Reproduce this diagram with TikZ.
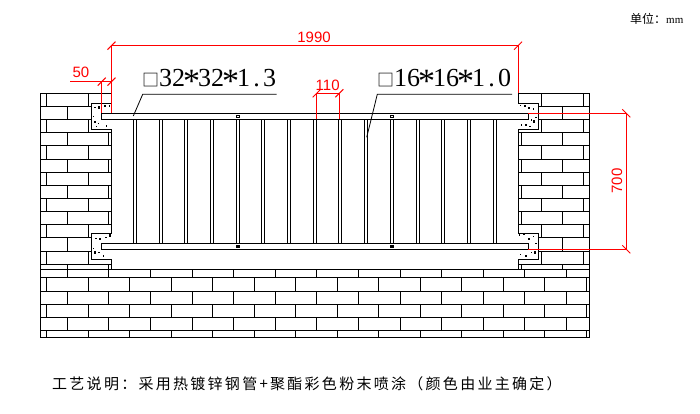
\documentclass[tikz,border=0pt]{standalone}
\usepackage{fontspec}
\newfontfamily\cjk{Noto Sans CJK SC}
\newfontfamily\cjkwide[LetterSpace=15.2]{Noto Sans CJK SC}
\newfontfamily\dimfont{Liberation Sans}
\newfontfamily\sizefont{Liberation Serif}
\tikzset{
  brick/.style={line width=1pt},
  rail/.style={draw, fill=white, line width=1pt},
  block/.style={draw, fill=white, line width=1pt},
  dimred/.style={red, line width=1pt},
  dimtext/.style={red, inner sep=0pt, font=\dimfont\fontsize{15}{15}\selectfont},
  leader/.style={line width=0.8pt},
  sizetext/.style={inner sep=0pt, anchor=base west, font=\sizefont\fontsize{26}{26}\selectfont},
}
% tick of a dimension line, / or \
\newcommand{\tickup}[1]{\draw[dimred] ([shift={(-4,4)}]#1) -- ([shift={(4,-4)}]#1);}
\newcommand{\tickdown}[1]{\draw[dimred] ([shift={(-4,-4)}]#1) -- ([shift={(4,4)}]#1);}
% pipe size marks
\newcommand{\boxmark}{{\cjk\fontsize{17}{17}\selectfont □}}
\newcommand{\starmark}{\makebox[13pt]{\raisebox{-5.5pt}{\fontsize{34}{34}\selectfont *}}}
\newcommand{\dotmark}{\makebox[13pt]{.}}
\begin{document}
\begin{tikzpicture}[x=1pt,y=-1pt]
    \useasboundingbox (0,0) rectangle (700,414);

    % wall left and right
    \draw[brick] (40.5,269.3) -- (40.5,93.3) -- (111.5,93.3) -- (111.5,269.3);
    \draw[brick] (518,269.3) -- (518,93.3) -- (589,93.3) -- (589,269.3);
    \foreach \k in {1,...,13} {
        \draw[brick] (40.5,93.3+13.15*\k) -- (111.5,93.3+13.15*\k);
        \draw[brick] (518,93.3+13.15*\k) -- (589,93.3+13.15*\k);
    }
    \foreach \k in {0,2,...,12} {
        \foreach \x in {46.7,88,541.3,583.3}
            \draw[brick] (\x,93.3+13.15*\k) -- (\x,106.45+13.15*\k);
    }
    \foreach \k in {1,3,...,11} {
        \foreach \x in {67.3,108.3,521.7,562.7}
            \draw[brick] (\x,93.3+13.15*\k) -- (\x,106.45+13.15*\k);
    }
    \foreach \x in {67.3,108.3,521.7,562.7}
        \draw[brick] (\x,264.3) -- (\x,269.3);

    % ground
    \draw[brick] (40.5,269.3) rectangle (589,337.3);
    \foreach \y in {277.3,291,304.3,317.3,330.3}
        \draw[brick] (40.5,\y) -- (589,\y);
    \foreach \k in {0,...,12} {
        \draw[brick] (67.3+41.6*\k,269.3) -- (67.3+41.6*\k,277.3);
        \draw[brick] (67.3+41.6*\k,291) -- (67.3+41.6*\k,304.3);
        \draw[brick] (67.3+41.6*\k,317.3) -- (67.3+41.6*\k,330.3);
    }
    \foreach \k in {0,...,13} {
        \draw[brick] (46.7+41.5*\k,277.3) -- (46.7+41.5*\k,291);
        \draw[brick] (46.7+41.5*\k,304.3) -- (46.7+41.5*\k,317.3);
        \draw[brick] (46.7+41.5*\k,330.3) -- (46.7+41.5*\k,337.3);
    }

    % concrete blocks
    \draw[block] (111.5,103.3) -- (91.7,103.3) -- (91.7,129.3) -- (111.5,129.3);
    \draw[block] (111.5,233.3) -- (91.7,233.3) -- (91.7,259.3) -- (111.5,259.3);
    \draw[block] (518,103.3) -- (538.7,103.3) -- (538.7,129.3) -- (518,129.3);
    \draw[block] (518,233.3) -- (538.7,233.3) -- (538.7,259.3) -- (518,259.3);
    \foreach \x/\y in {95/107.3,105/106,109.3/106,93.3/116.7,98.3/123.3,106.7/126,96.7/126.7,
                       96/238.3,106/237.3,93.3/248.3,99/252.3,103.3/256,
                       525/106,520.7/105.3,533.3/109,531.7/120,536/117.3,526/125,521.7/125,530/126.7,
                       519.3/235,524/234.3,533.3/236.7,531.7/252.3,536/243.3,526/256,520.7/254.3}
        \fill (\x-0.6,\y-0.6) rectangle (\x+0.6,\y+0.6);
    \foreach \x/\y in {98.9/107.7,95/122,100/239,110/235.7,95/252.3,529/108,534/121.7,529/239,535/252.3}
        \fill (\x-1.3,\y-1.3) rectangle (\x+1.3,\y+1.3);

    % balusters
    \foreach \k in {0,...,14} {
        \draw[brick] (133.3+25.71*\k,119.3) -- (133.3+25.71*\k,243.3);
        \draw[brick] (136.3+25.71*\k,119.3) -- (136.3+25.71*\k,243.3);
    }

    % rails
    \draw[rail] (101.7,113.3) rectangle (528.3,119.3);
    \draw[rail] (101.7,243.3) rectangle (528.3,249.3);
    \foreach \x in {238,392} {
        \draw[line width=0.7pt] (\x-1.2,115.2) rectangle (\x+1.2,117.4);
        \fill (\x-1.8,245.4) rectangle (\x+1.8,247.8);
    }

    % dimension 1990
    \coordinate (wideL) at (111.5,45.7);
    \coordinate (wideR) at (518,45.7);
    \coordinate (wideLend) at (111.5,113.3);
    \coordinate (wideRend) at (518,93.3);
    \draw[dimred] (wideLend) -- (wideL) -- (wideR) -- (wideRend);
    \tickup{wideL}
    \tickup{wideR}
    \node[dimtext] (wideText) at (314,37) {1990};

    % dimension 50
    \coordinate (wallA) at (70,81.7);
    \coordinate (wallB) at (101.7,81.7);
    \coordinate (wallC) at (111.5,81.7);
    \coordinate (wallBend) at (101.7,113.3);
    \draw[dimred] (wallA) -- (wallC);
    \draw[dimred] (wallB) -- (wallBend);
    \tickup{wallB}
    \tickup{wallC}
    \node[dimtext] (wallText) at (81,72) {50};

    % dimension 110
    \coordinate (gapL) at (316.7,93.3);
    \coordinate (gapR) at (339.3,93.3);
    \coordinate (gapLend) at (316.7,119.3);
    \coordinate (gapRend) at (339.3,119.3);
    \draw[dimred] (gapLend) -- (gapL) -- (gapR) -- (gapRend);
    \tickup{gapL}
    \tickup{gapR}
    \node[dimtext] (gapText) at (327.7,85) {110};

    % dimension 700
    \coordinate (highT) at (626.3,113.3);
    \coordinate (highB) at (626.3,249.3);
    \coordinate (highTend) at (528.3,113.3);
    \coordinate (highBend) at (528.3,249.3);
    \draw[dimred] (highTend) -- (highT) -- (highB) -- (highBend);
    \tickdown{highT}
    \tickdown{highB}
    \node[dimtext, rotate=90] (highText) at (617,181) {700};

    % pipe sizes
    \node[sizetext] (bigPipe) at (142,86.7) {\boxmark 32\starmark 32\starmark 1\dotmark 3};
    \node[sizetext] (smallPipe) at (377,86.7) {\boxmark 16\starmark 16\starmark 1\dotmark 0};
    \coordinate (bigA) at (133.3,116);
    \coordinate (bigB) at (142.7,94.3);
    \coordinate (bigC) at (276.7,94.3);
    \coordinate (smallA) at (366.7,137.3);
    \coordinate (smallB) at (377.3,94.3);
    \coordinate (smallC) at (512,94.3);
    \draw[leader] (bigA) -- (bigB) -- (bigC);
    \draw[leader] (smallA) -- (smallB) -- (smallC);

    % notes
    \node[inner sep=0pt, anchor=west, font=\cjk\fontsize{12}{12}\selectfont] (unitText) at (630,19)
        {单位\char"FF1A\relax{\sizefont\fontsize{11}{11}\selectfont mm}};
    \node[inner sep=0pt, anchor=west, font=\cjkwide\fontsize{15}{16}\selectfont] (noteText) at (52,384)
        {工艺说明\char"FF1A\relax 采用热镀锌钢管+聚酯彩色粉末喷涂\char"FF08\relax 颜色由业主确定\char"FF09\relax};
\end{tikzpicture}
\end{document}
